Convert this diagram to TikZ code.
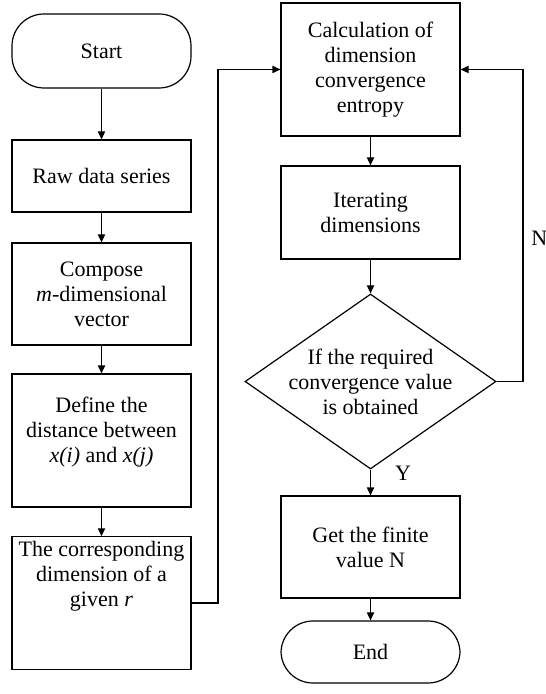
\documentclass[tikz,border=0pt]{standalone}
\usepackage{fontspec}
\setmainfont{Liberation Serif}
\usetikzlibrary{arrows.meta, shapes.geometric, calc}

\begin{document}
\begin{tikzpicture}[
  x=0.5pt, y=-0.5pt,
  every node/.style={font=\fontsize{11}{12.5}\selectfont, align=center},
  stepbox/.style={draw, line width=0.6pt, minimum width=89.5pt, inner sep=2pt},
  termbox/.style={draw, line width=0.6pt, minimum width=89.5pt, rounded corners=16pt},
  decide/.style={draw, diamond, line width=0.6pt, aspect=1.43, inner sep=-2pt, minimum width=125.5pt, minimum height=87.5pt},
  arr/.style={line width=0.6pt, -{Triangle[length=4pt, width=3.6pt]}},
]
  \useasboundingbox (0,0) rectangle (545,694);

  \node[termbox, minimum height=37pt] (start) at (101.5, 51) {Start};
  \node[stepbox, minimum height=36pt] (raw) at (101.5,176) {Raw data series};
  \node[stepbox, minimum height=51pt] (comp) at (101.5,294) {Compose\\\textit{m}-dimensional\\vector};
  \node[stepbox, minimum height=66.5pt] (dist) at (101.5,440.5) {Define the\\distance between\\\textit{x(i)} and \textit{x(j)}\\[-2pt]};
  \node[stepbox, minimum height=66pt] (corr) at (101.5,603) {The corresponding\\dimension of a\\given \textit{r}\\[17pt]};

  \node[stepbox, minimum height=66.5pt] (calc) at (370.5,69.5) {Calculation of\\dimension\\convergence\\entropy};
  \node[stepbox, minimum height=46.5pt] (iter) at (370.5,212.5) {Iterating\\dimensions};
  \node[decide] (cond) at (370.5,381.5) {If the required\\convergence value\\is obtained};
  \node[stepbox, minimum height=51pt] (get) at (370.5,547) {Get the finite\\value N};
  \node[termbox, minimum height=31pt] (end) at (370.5,652) {End};

  \coordinate (jl) at (218,0);
  \coordinate (jr) at (523,0);
  \node (yes) at (403,473) {Y};
  \node[anchor=west, inner sep=0pt] (no) at (531,238) {N};

  \draw[arr] (start) -- (raw);
  \draw[arr] (raw) -- (comp);
  \draw[arr] (comp) -- (dist);
  \draw[arr] (dist) -- (corr);
  \draw[arr] (corr.east) -| (jl |- calc.west) -- (calc.west);
  \draw[arr] (calc) -- (iter);
  \draw[arr] (iter) -- (cond);
  \draw[arr] (cond.east) -| (jr |- calc.east) -- (calc.east);
  \draw[arr] (cond.south) -- (get);
  \draw[arr] (get) -- (end);
\end{tikzpicture}
\end{document}
